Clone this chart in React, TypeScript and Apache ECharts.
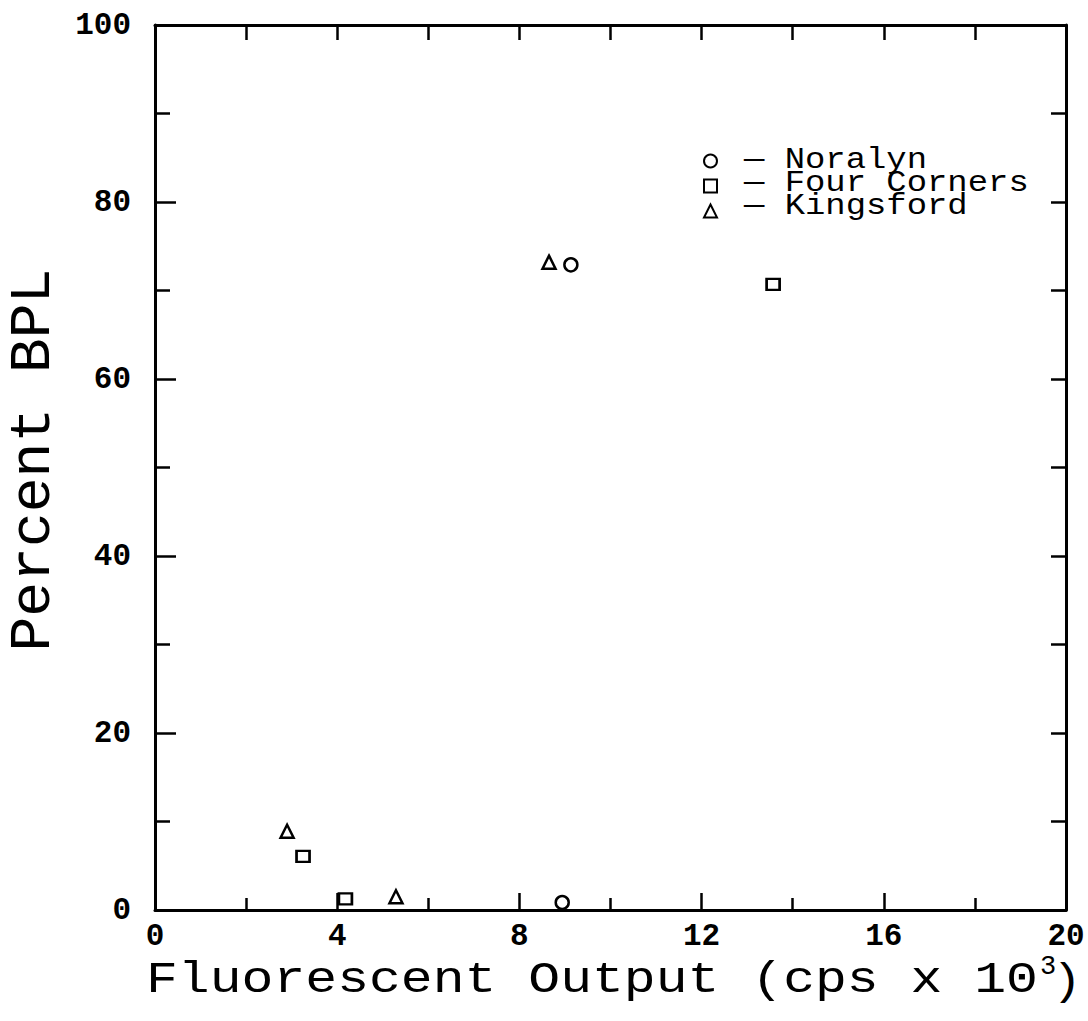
import React, { useEffect, useRef } from "react";
import * as echarts from "echarts";

// Fluorescent output (cps x 10^3) vs percent BPL for three phosphate sources
const noralyn: [number, number][] = [
  [9.13, 72.9],
  [8.94, 0.85],
];
const fourCorners: [number, number][] = [
  [3.25, 6.05],
  [4.18, 1.25],
  [13.57, 70.7],
];
const kingsford: [number, number][] = [
  [2.9, 8.9],
  [5.29, 1.5],
  [8.65, 73.2],
];

const seriesNames = ["Noralyn", "Four Corners", "Kingsford"];
const seriesSymbols = ["circle", "rect", "triangle"];

const xMin = 0;
const xMax = 20;
const yMin = 0;
const yMax = 100;

const MONO = "'Liberation Mono', 'DejaVu Sans Mono', monospace";

export default function App() {
  const ref = useRef<HTMLDivElement>(null);

  useEffect(() => {
    if (!ref.current) return;
    const chart = echarts.init(ref.current, undefined, { renderer: "svg" });

    const markerStyle = {
      color: "#ffffff",
      borderColor: "#000000",
      borderWidth: 2.5,
      opacity: 1,
    };

    const datasets = [noralyn, fourCorners, kingsford];

    const axisLine = { show: true, onZero: false, lineStyle: { color: "#000", width: 3 } };
    const tickStyle = { color: "#000", width: 2.5 };
    const tickLabel = {
      color: "#000",
      fontFamily: MONO,
      fontWeight: "bold" as const,
      fontSize: 31,
    };

    chart.setOption({
      animation: false,
      backgroundColor: "#ffffff",
      grid: { left: 155, right: 22, top: 25, bottom: 111 },
      // legend keys only; the entry captions are drawn as one text block below
      legend: {
        orient: "vertical",
        left: 703,
        top: 153.5,
        itemWidth: 13,
        itemHeight: 13,
        itemGap: 10,
        padding: 0,
        data: seriesNames,
        formatter: () => "",
        textStyle: { fontSize: 8 },
      },
      xAxis: [
        {
          type: "value",
          position: "bottom",
          min: xMin,
          max: xMax,
          interval: 4,
          axisLine,
          axisTick: { show: true, inside: true, length: 17, lineStyle: tickStyle },
          minorTick: { show: true, splitNumber: 2, length: 12, lineStyle: tickStyle },
          splitLine: { show: false },
          minorSplitLine: { show: false },
          axisLabel: { ...tickLabel, margin: 11 },
        },
        {
          type: "value",
          position: "top",
          min: xMin,
          max: xMax,
          interval: 2,
          axisLine,
          axisTick: { show: true, inside: true, length: 15, lineStyle: tickStyle },
          splitLine: { show: false },
          axisLabel: { show: false },
        },
      ],
      yAxis: [
        {
          type: "value",
          position: "left",
          min: yMin,
          max: yMax,
          interval: 20,
          axisLine,
          axisTick: { show: true, inside: true, length: 21, lineStyle: tickStyle },
          minorTick: { show: true, splitNumber: 2, length: 15, lineStyle: tickStyle },
          splitLine: { show: false },
          minorSplitLine: { show: false },
          axisLabel: { ...tickLabel, margin: 24 },
        },
        {
          type: "value",
          position: "right",
          min: yMin,
          max: yMax,
          interval: 10,
          axisLine,
          axisTick: { show: true, inside: true, length: 15, lineStyle: tickStyle },
          splitLine: { show: false },
          axisLabel: { show: false },
        },
      ],
      series: datasets.map((d, i) => ({
        name: seriesNames[i],
        type: "scatter",
        xAxisIndex: 0,
        yAxisIndex: 0,
        symbol: seriesSymbols[i],
        symbolSize: i === 1 ? [13, 11] : 13,
        itemStyle: markerStyle,
        data: d,
      })),
      graphic: [
        {
          type: "text",
          x: 744,
          y: 149,
          scaleX: 1.13,
          style: {
            text: seriesNames.map((n) => "\u2014 " + n).join("\n"),
            fontFamily: MONO,
            fontSize: 30,
            lineHeight: 23,
            fill: "#000",
            align: "left",
            verticalAlign: "top",
          },
        },
        {
          type: "text",
          x: 33,
          y: 460,
          rotation: Math.PI / 2,
          style: {
            text: "Percent BPL",
            fontFamily: MONO,
            fontSize: 58,
            fill: "#000",
            align: "center",
            verticalAlign: "middle",
          },
        },
        {
          type: "text",
          x: 146,
          y: 980,
          scaleX: 1.18,
          style: {
            text: "Fluorescent Output (cps x 10",
            fontFamily: MONO,
            fontSize: 45,
            fill: "#000",
            align: "left",
            verticalAlign: "middle",
          },
        },
        {
          type: "text",
          x: 1040,
          y: 967,
          style: {
            text: "3",
            fontFamily: MONO,
            fontSize: 27,
            fill: "#000",
            align: "left",
            verticalAlign: "middle",
          },
        },
        {
          type: "text",
          x: 1052,
          y: 982,
          scaleX: 1.1,
          style: {
            text: ")",
            fontFamily: MONO,
            fontSize: 45,
            fill: "#000",
            align: "left",
            verticalAlign: "middle",
          },
        },
      ],
    });

    return () => chart.dispose();
  }, []);

  return (
    <div
      ref={ref}
      style={{ position: "fixed", left: 0, top: 0, width: 1088, height: 1021, background: "#fff" }}
    />
  );
}
